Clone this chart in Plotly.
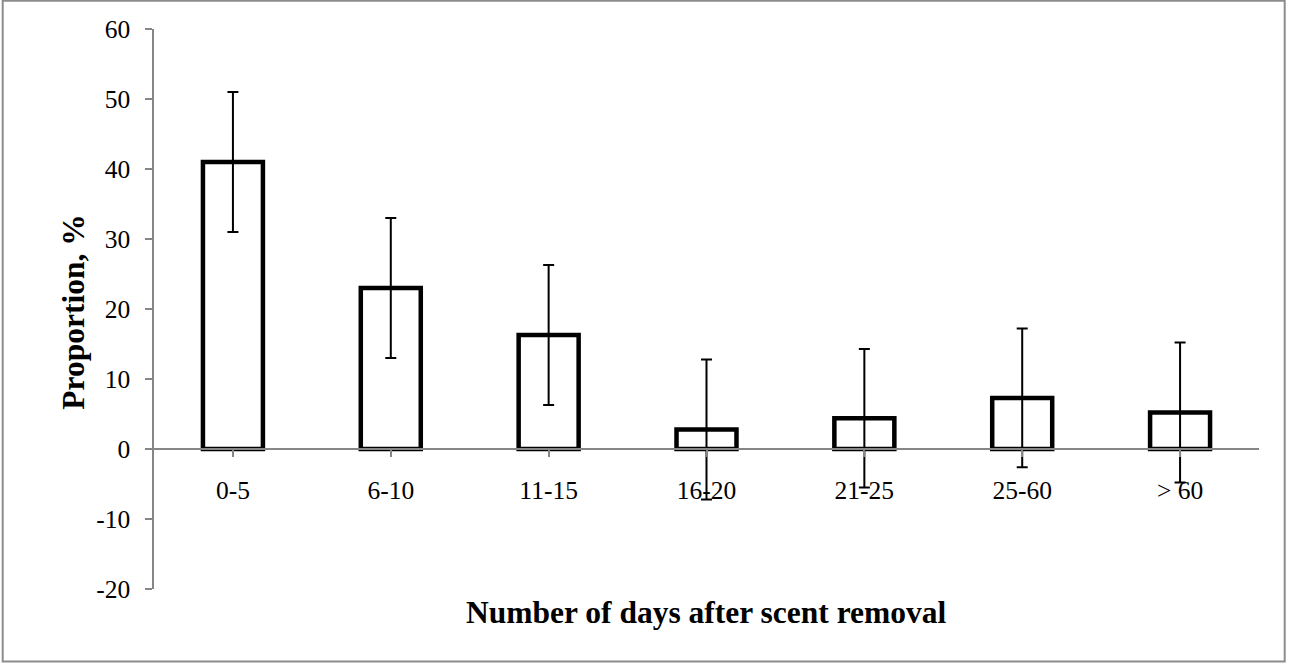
import plotly.graph_objects as go

categories = ["0-5", "6-10", "11-15", "16-20", "21-25", "25-60", "> 60"]
proportion = [41.0, 23.0, 16.3, 2.8, 4.4, 7.3, 5.2]
error = [10.0, 10.0, 10.0, 10.0, 9.9, 9.9, 10.0]

y_ticks = [-20, -10, 0, 10, 20, 30, 40, 50, 60]
y_tick_labels = ["-20", "-10", "0", "10", "20", "30", "40", "50", "60"]

W, H = 1289, 663
L, R, T, B = 154.3, 29.7, 29.3, 74.3
pw = W - L - R
ph = H - T - B

font_family = "Liberation Serif, Times New Roman, serif"
axis_grey = "#868686"

fig = go.Figure()
fig.add_trace(go.Bar(
    x=list(range(len(categories))),
    y=proportion,
    width=0.38,
    marker=dict(color="white", line=dict(color="black", width=4.5)),
    error_y=dict(type="data", array=error, visible=True,
                 color="black", thickness=2, width=5.5),
    showlegend=False,
))

fig.update_layout(
    width=W, height=H,
    margin=dict(l=L, r=R, t=T, b=B, pad=0),
    paper_bgcolor="white",
    plot_bgcolor="white",
    font=dict(family=font_family, color="black", size=25.5),
    xaxis=dict(
        range=[-0.5, len(categories) - 0.5],
        tickmode="array",
        tickvals=list(range(len(categories))),
        ticktext=categories,
        tickson="boundaries",
        ticks="outside", ticklen=7, tickcolor=axis_grey, tickwidth=1.5,
        showline=True, linecolor=axis_grey, linewidth=1.5,
        showgrid=False, zeroline=False,
        anchor="free", position=(0 - y_ticks[0]) / (y_ticks[-1] - y_ticks[0]),
        ticklabelstandoff=12,
        tickfont=dict(size=25.5, family=font_family, color="black"),
    ),
    yaxis=dict(
        range=[y_ticks[0], y_ticks[-1]],
        tickmode="array", tickvals=y_ticks, ticktext=y_tick_labels,
        ticks="outside", ticklen=7, tickcolor=axis_grey, tickwidth=1.5,
        showline=True, linecolor=axis_grey, linewidth=1.5,
        showgrid=False, zeroline=False,
        ticklabelstandoff=10,
        tickfont=dict(size=25.5, family=font_family, color="black"),
    ),
    annotations=[
        dict(text="<b>Number of days after scent removal</b>",
             xref="paper", yref="paper", x=0.5, y=(H - B - 612) / ph,
             xanchor="center", yanchor="middle", showarrow=False,
             font=dict(size=31.5, family=font_family, color="black")),
        dict(text="<b>Proportion, %</b>",
             xref="paper", yref="paper", x=(73 - L) / pw, y=(H - B - 312) / ph,
             xanchor="center", yanchor="middle", textangle=-90, showarrow=False,
             font=dict(size=31.5, family=font_family, color="black")),
    ],
    shapes=[
        dict(type="rect", xref="paper", yref="paper",
             x0=(3 - L) / pw, x1=(1285 - L) / pw,
             y0=(H - B - 661) / ph, y1=(H - B - 1) / ph,
             line=dict(color="#8c8c8c", width=2), fillcolor="rgba(0,0,0,0)",
             layer="below"),
    ],
)

fig.write_html("out.html", config={"displayModeBar": False},
               post_script="document.body.style.margin='0px';")
